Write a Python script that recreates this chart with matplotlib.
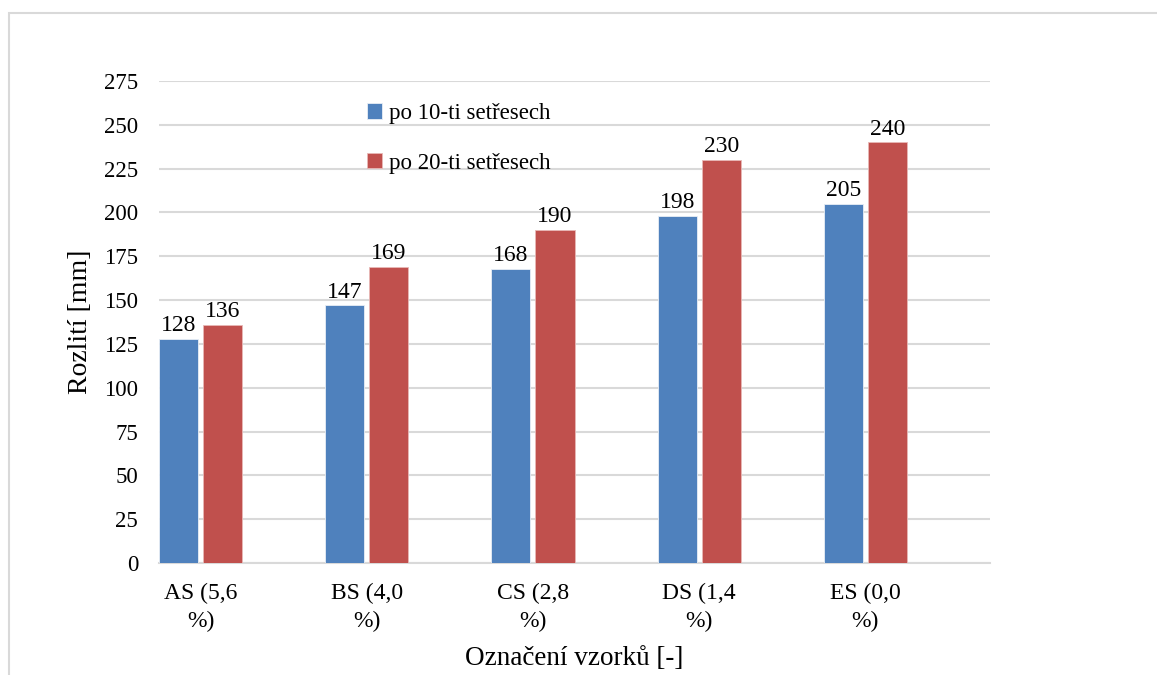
import matplotlib.pyplot as plt
import numpy as np
from matplotlib.patches import Rectangle

plt.rcParams['font.family'] = ['Liberation Serif', 'DejaVu Serif']

vzorky = ['AS (5,6\n%)', 'BS (4,0\n%)', 'CS (2,8\n%)', 'DS (1,4\n%)', 'ES (0,0\n%)']
po_10 = [128, 147, 168, 198, 205]
po_20 = [136, 169, 190, 230, 240]
nazvy = ['po 10-ti setřesech', 'po 20-ti setřesech']

modra = '#4F81BD'
cervena = '#C0504D'
mrizka = '#D9D9D9'

fig = plt.figure(figsize=(11.57, 6.75), dpi=100)
# rámeček grafu
fig.patches.append(Rectangle((9 / 1157, -0.2), 1.5, 1.2 - 13 / 675,
                             transform=fig.transFigure, fill=False,
                             edgecolor='#D9D9D9', linewidth=1.5))
ax = fig.add_axes([159 / 1157, 1 - 563 / 675, 831 / 1157, 482 / 675])

x = np.arange(len(vzorky))
w = 0.235
gap = 0.03
b1 = ax.bar(x - (w + gap) / 2, po_10, w, color=modra, label=nazvy[0],
            edgecolor='#E8EEF6', linewidth=0.6, zorder=3)
b2 = ax.bar(x + (w + gap) / 2, po_20, w, color=cervena, label=nazvy[1],
            edgecolor='#E8B8B6', linewidth=0.6, zorder=3)

for bars, vals in ((b1, po_10), (b2, po_20)):
    for r, v in zip(bars, vals):
        ax.annotate(str(v), (r.get_x() + r.get_width() / 2, v),
                    xytext=(0, 2), textcoords='offset points',
                    ha='center', va='bottom', fontsize=17)

ax.set_xlim(-0.25, 4.75)
ax.set_ylim(0, 275)
ax.set_yticks(np.arange(0, 276, 25))
ax.set_xticks(x)
ax.set_xticklabels(vzorky, fontsize=17, linespacing=1.45)
ax.tick_params(axis='y', length=0, pad=15, labelsize=16.5)
ax.tick_params(axis='x', length=0, pad=14)
ax.grid(axis='y', color=mrizka, linewidth=1.5, zorder=0)
for s in ['top', 'right', 'left']:
    ax.spines[s].set_visible(False)
ax.spines['bottom'].set_color(mrizka)
ax.spines['bottom'].set_linewidth(1.5)

ax.set_ylabel('Rozlití [mm]', fontsize=20, labelpad=8)
ax.set_xlabel('Označení vzorků [-]', fontsize=19.5, labelpad=10)

ax.legend(loc='upper left', bbox_to_anchor=(0.226, 0.997), frameon=False,
          fontsize=16.5, handlelength=0.65, handleheight=0.65,
          handletextpad=0.3, labelspacing=1.25)

fig.savefig('out.png', dpi=100)
